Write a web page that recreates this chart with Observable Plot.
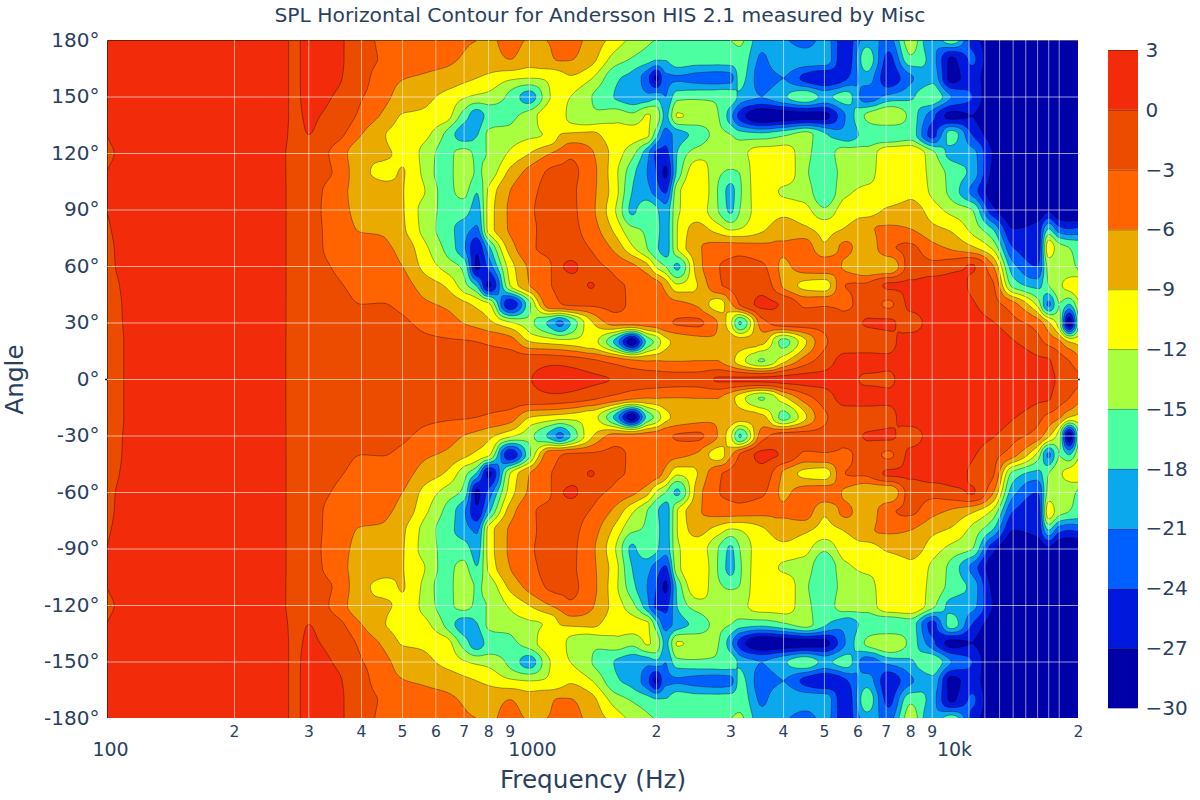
<!DOCTYPE html>
<html><head><meta charset="utf-8">
<script src="https://cdn.jsdelivr.net/npm/d3@7"></script>
<script src="https://cdn.jsdelivr.net/npm/@observablehq/plot@0.6"></script>
<style>
html,body{margin:0;padding:0;background:#fff}
#wrap{position:relative;width:1200px;height:800px;overflow:hidden;font-family:"DejaVu Sans",sans-serif;color:#2a3f5f}
#title{position:absolute;left:0;top:3px;width:1200px;text-align:center;font-size:20.3px;line-height:24px;z-index:3}
#main,#bar{position:absolute;top:0}
#main{left:0}#bar{left:1100px;z-index:2}
svg{max-width:none!important}
</style></head><body>
<div id="wrap"><div id="title">SPL Horizontal Contour for Andersson HIS 2.1 measured by Misc</div><div id="main"></div><div id="bar"></div></div>
<script>
const freqs=[100,150,200,250,260,280,300,350,400,450,500,560,
630,700,750,800,900,1000,1120,1180,1250,1400,1600,1750,1900,2000,2100,2240,2500,2800,3000,3150,3550,
4000,4500,5000,5600,6300,7100,8000,9000,10000,11200,12500,14000,16000,17000,18000,19000,20000];
const angles=[180,170,160,150,140,130,120,110,100,90,80,70,60,50,40,30,20,10,0];
const r180=[0,1,1.5,.8,.3,-.2,.6,.3,-1.5,-3.8,-4.6,-4.8,-5,-5.7,-6,-6.5,-5,-6.2,-5.9,-4.8,-5,-7,-10.4,-12.8,-14.3,-15.1,-15.3,-15.5,-15.5,-15.5,-15,-14.5,-20,-20.5,-23,-19.5,-26,-19.5,-22,-13,-21,-15.5,-25,-29,-29.5,-29.9,-29.9,-29.9,-29.9,-29.9];
const r170=[0,1,1.5,.8,.3,-.2,.6,.3,-1.5,-3.5,-5,-5.3,-5.5,-6.3,-6.9,-7,-6,-7.5,-6.3,-5.8,-5.9,-8,-13.5,-15.3,-16.7,-17.8,-17.8,-15.8,-16.5,-16.5,-16.3,-16,-21.5,-18.5,-19,-19,-26.5,-16,-25,-15.8,-19.5,-27.5,-23.5,-29.5,-29.9,-29.9,-29.9,-29.9,-29.9,-29.9];
const r160=[0,1,1.5,.8,.3,-.2,.6,.2,-1.7,-5,-5.9,-6.3,-7,-8.3,-9,-9.8,-11.5,-12,-11.5,-10.5,-9.5,-11.8,-17.5,-19,-23,-27.5,-21.5,-21.3,-22,-22.5,-22,-17,-22.5,-21,-25,-27,-24.5,-19.5,-26,-21.5,-18.8,-28,-25.5,-29.5,-29.9,-29.9,-29.9,-29.9,-29.9,-29.9];
const r150=[0,1,1.5,.8,.3,-.2,.5,-.2,-2.8,-5.2,-7,-8.2,-9.7,-11.7,-12.6,-13,-15.8,-19.5,-12,-11,-12,-14.9,-18.2,-19.5,-20,-18.8,-21,-16,-15.5,-15.5,-16,-18.8,-21,-18.5,-15.5,-18.8,-16.5,-22.5,-20,-18.5,-15.5,-21,-24,-29.5,-29.9,-29.9,-29.9,-29.9,-29.9,-29.9];
const r140=[0,1,1.5,.8,.3,-.2,.2,-.8,-3.8,-6.5,-9.2,-9.5,-10.5,-16.5,-19.5,-17,-15.8,-13.5,-10,-10.5,-13,-14.5,-13,-14.2,-11.8,-13,-18.8,-11.8,-13,-14.9,-20,-25,-29.9,-29,-28.5,-28,-21,-14.5,-12,-16,-23,-28,-27,-29.9,-29.9,-29.9,-29.9,-29.9,-29.9,-29.9];
const r130=[0,1,1.5,.8,.3,-.3,0,-2,-6,-8.8,-10,-11,-15.3,-19.5,-18.2,-14.5,-13.5,-12.5,-11.5,-9,-8.5,-8.2,-11,-10.8,-11.5,-17,-22.5,-19.5,-17,-14.2,-15,-16.5,-17,-15.5,-14,-17.5,-20,-17,-18,-16.5,-25,-16.5,-24,-28.5,-29.9,-29.9,-29.9,-29.9,-29.9,-29.9];
const r120=[-.1,1,1.5,.8,.2,-.5,-.8,-4.2,-8,-8.7,-9.5,-12.7,-16,-13.8,-15.5,-14.8,-11.5,-9,-6,-5,-3.5,-5.6,-10.5,-14,-20,-24.5,-25,-17.9,-13.5,-12.5,-13,-12.8,-10.5,-10.5,-14,-16.5,-13.5,-13.8,-9.5,-9.2,-14,-19,-20,-27,-29.5,-29.9,-29.9,-29.9,-29.9,-29.9];
const r110=[0,1,1.5,.8,.2,-.5,-1,-3.6,-8.2,-9.6,-8.9,-12.5,-16.5,-12.8,-15.3,-14,-8.2,-5,-2.6,-2.3,-2.4,-4.9,-11.3,-17,-21,-24,-27.5,-17.2,-9.9,-14.4,-15.5,-14.9,-9.3,-9.6,-14.5,-16.5,-14,-13,-10.5,-10,-13,-16,-19,-27.5,-29.9,-29.9,-29.9,-29.9,-29.9,-29.9];
const r100=[0,1,1.5,.8,.2,-.5,-1.3,-5,-7,-8,-8.9,-11.7,-15.8,-14.2,-17.8,-11.5,-6,-3.8,-2.2,-2.1,-2.5,-5.1,-11,-18,-20,-22.5,-24.5,-13,-9.5,-15.2,-19,-15.5,-10.3,-12.5,-13.5,-17.5,-12.7,-11.5,-11.5,-9.8,-12.6,-16,-22,-28.5,-29.9,-29.9,-29.9,-29.9,-29.9,-29.9];
const r90=[0,1,1.5,.8,.2,-.5,-1.5,-5,-6.7,-7.5,-8.8,-13,-15.7,-16.5,-19.5,-11,-5.5,-3.4,-2.1,-2,-2.4,-5.2,-12,-18.5,-16,-17.5,-20,-12.5,-10.5,-15,-18.5,-15,-10.5,-9.8,-11,-14.5,-10.5,-10.5,-8.4,-7.5,-10.5,-13,-15,-26,-29.5,-29.5,-27.5,-29.5,-29.7,-29.7];
const r80=[-.05,1,1.5,.8,.2,-.5,-1.5,-4.6,-6.2,-6.4,-8.5,-12.8,-16.5,-19.5,-21.5,-11,-5.6,-3.6,-2.2,-2.1,-2.3,-4.5,-10,-14.5,-15.5,-17,-19.5,-12,-8,-10.5,-12.5,-12,-9.5,-7.8,-8.5,-10,-8.8,-6.5,-5.5,-6,-8.2,-9.5,-13,-18,-27,-26,-18,-23,-24,-23.5];
const r70=[-.1,1,1.5,.8,.2,-.5,-1.5,-4.2,-4.9,-5.5,-6.9,-11,-15.5,-20.5,-26.5,-19,-7.5,-3.6,-2.2,-2,-1.8,-3.2,-7,-11.5,-15,-17.5,-19.5,-12,-6.5,-4.8,-4.5,-4.5,-5,-5.5,-4.5,-8.5,-5.3,-8,-3.5,-2.5,-5,-6.5,-8.5,-12.5,-24,-26,-10,-14,-15,-16];
const r60=[-.12,1,1.5,.8,.2,-.5,-1.4,-3.4,-4.5,-5,-6,-9.7,-13,-16,-27.5,-23,-10.5,-5.5,-3.2,-.5,.5,-1.8,-3.9,-5.3,-8,-12.5,-15,-18.5,-7.5,-3.1,-2.5,-2,-2.5,-6.5,-4.5,-4,-6.5,-8.8,-9,-1.8,-2,-1,.2,-5.5,-20,-24,-14,-13.5,-14,-15.5];
const r50=[-.2,1,1.5,.8,.2,-.5,-1.3,-2.7,-3.7,-4,-4.8,-7.2,-9.2,-14,-18.5,-27.5,-12,-6,-3.1,-2.5,-1.6,.1,-2.6,-3.3,-4.1,-4.8,-7,-11.5,-9,-3.3,-2.5,-1.8,-1,-6.5,-9.8,-10.5,-3,-2.5,.5,.5,1.2,1.2,-.5,-2.5,-16,-19,-15,-12.5,-11,-9.5];
const r40=[-.25,1,1.5,.8,.2,-.5,-1.2,-2.2,-3,-2.95,-3.6,-5.4,-6.5,-8.3,-9.8,-11.5,-26.5,-15.5,-3.8,-3.1,-2.6,-2.4,-2.4,-3.5,-4.3,-4.5,-4.8,-5.2,-6.5,-10.5,-6.5,-2.8,.5,-.3,-3.5,-3.2,-3.6,-1.5,-3.5,.8,1.5,1.5,.3,-1.8,-5,-13,-21.5,-15,-18,-12.5];
const r30=[-.27,1,1.5,.8,.2,-.5,-1.2,-2,-2.1,-2.2,-2.6,-3.6,-4.5,-6.1,-7,-8.2,-11.5,-14.1,-19,-21.8,-18,-9.5,-5,-5,-4.8,-4.5,-3.5,-2.8,-2.5,-6.2,-11.5,-18.3,-4.5,-1.5,-1.8,-2.2,-1.5,.2,.5,-1.5,1.2,1.3,1.1,.2,-2,-4.5,-8.5,-14,-29,-15];
const r20=[-.3,1,1.5,.8,.2,-.5,-1.1,-1.6,-1.7,-1.8,-2,-2.5,-2.7,-2.8,-3,-3.4,-4.5,-8.9,-10,-10.5,-10.8,-11,-19,-29,-17,-14,-10,-8.2,-7,-6.3,-7,-7.5,-8,-16,-9.5,-3.5,-1.5,-1.5,-.8,1.5,1.6,1.6,1.6,1.5,.2,-2,-4,-5.5,-9,-10];
const r10=[-.3,1,1.5,.8,.2,-.5,-1,-1.5,-1.5,-1.5,-1.6,-1.8,-1.8,-1.8,-1.8,-1.8,-1.6,-1.2,-1,-1.2,-1.5,-2.5,-4.2,-5.6,-6.1,-6,-6.1,-6.1,-6,-6,-8,-10.5,-15.2,-10,-4.5,-1.5,.8,.9,.4,1.6,1.6,1.7,1.8,1.8,1.5,.5,.2,-1.8,-3,-5];
const r0=[-.3,1,1.5,.8,.2,-.5,-1,-1.4,-1.4,-1.3,-1.3,-1.3,-1.3,-1.2,-1.1,-1,-.6,-.1,1.5,2,1.5,.5,-.2,-1.3,-1.6,-1.8,-1.8,-1.8,-1.6,.3,.4,.5,.8,1,1,.8,.7,-.3,-.3,1.5,2,1.7,1.5,1.5,1.5,1.4,.7,-.5,-1.5,-2.5];
const rows=[r180,r170,r160,r150,r140,r130,r120,r110,r100,r90,r80,r70,r60,r50,r40,r30,r20,r10,r0];

const levels=[-30,-27,-24,-21,-18,-15,-12,-9,-6,-3,0,3];
const bandColors=["#0000a8","#0018dc","#0060ff","#0ca8ee","#4cffa0","#a8ff40","#ffff00","#eaaa00","#ff6400","#eb4c00","#f22c0a"];
const angleTicks=[-180,-150,-120,-90,-60,-30,0,30,60,90,120,150,180];
const gridAngles=[-150,-120,-90,-60,-30,0,30,60,90,120,150];
const gridFreqs=[200,300,400,500,600,700,800,1000,2000,3000,4000,5000,6000,7000,8000,9000,11000,12000,13000,14000,15000,16000,17000,18000];
const majorTicks=[100,1000,10000];
const minorTicks=[200,300,400,500,600,700,800,900,2000,3000,4000,5000,6000,7000,8000,9000,20000];
const majorText={100:"100",1000:"1000",10000:"10k"};

const table=[];
rows.forEach((row,i)=>row.forEach((v,j)=>{
  table.push({f:freqs[j],a:angles[i],v});
  if(angles[i]!==0) table.push({f:freqs[j],a:-angles[i],v});
}));

// Monotone cubic through the samples of one line, evaluated at positions q.
function slopes(t,p){
  const n=t.length,m=new Float64Array(n),d=[];
  for(let k=0;k<n-1;k++) d.push((p[k+1]-p[k])/(t[k+1]-t[k]));
  m[0]=d[0];m[n-1]=d[n-2];
  for(let k=1;k<n-1;k++){
    if(d[k-1]*d[k]<=0) m[k]=0;
    else{const a=t[k]-t[k-1],b=t[k+1]-t[k];m[k]=3*(a+b)/((2*b+a)/d[k-1]+(b+2*a)/d[k]);}
  }
  return m;
}
function spline(t,p,q,out,stride,off){
  const m=slopes(t,p);let k=0;
  for(let i=0;i<q.length;i++){
    const x=q[i];
    while(k<t.length-2&&x>t[k+1])k++;
    const h=t[k+1]-t[k],s=Math.max(0,Math.min(1,(x-t[k])/h)),s2=s*s,s3=s2*s;
    out[off+i*stride]=(2*s3-3*s2+1)*p[k]+(s3-2*s2+s)*h*m[k]+(-2*s3+3*s2)*p[k+1]+(s3-s2)*h*m[k+1];
  }
}
function gridInterpolate(index,w,h,X,Y,V){
  const xs=[...new Set(Array.from(index,i=>X[i]))].sort((a,b)=>a-b);
  const ys=[...new Set(Array.from(index,i=>Y[i]))].sort((a,b)=>a-b);
  const ix=new Map(xs.map((x,i)=>[x,i])),iy=new Map(ys.map((y,i)=>[y,i]));
  const nx=xs.length,ny=ys.length,G=new Float64Array(nx*ny);
  for(const i of index) G[iy.get(Y[i])*nx+ix.get(X[i])]=V[i];
  const qx=Array.from({length:w},(_,i)=>i+.5),qy=Array.from({length:h},(_,j)=>j+.5);
  const R=new Float64Array(ny*w);
  for(let j=0;j<ny;j++) spline(xs,G.subarray(j*nx,(j+1)*nx),qx,R,1,j*w);
  const out=new Float64Array(w*h),col=new Float64Array(ny);
  for(let i=0;i<w;i++){
    for(let j=0;j<ny;j++) col[j]=R[j*w+i];
    spline(ys,col,qy,out,w,i);
  }
  return out;
}

const ink="#2a3f5f";
const main=Plot.plot({
  width:1200,height:800,marginLeft:107,marginRight:122,marginTop:40,marginBottom:82,
  style:{fontFamily:"'DejaVu Sans',sans-serif",color:ink,background:"#fff"},
  x:{type:"log",domain:[100,20000],axis:null},
  y:{domain:[-180,180],axis:null},
  color:{type:"threshold",domain:levels.slice(1,-1),range:bandColors},
  marks:[
    Plot.ruleY([0],{x1:()=>99,x2:()=>20200,stroke:"#000",strokeWidth:1.5}),
    Plot.contour(table,{x:"f",y:"a",value:"v",fill:"value",stroke:"#000",strokeOpacity:.45,strokeWidth:.8,
      thresholds:levels.slice(0,-1),interpolate:gridInterpolate,pixelSize:1,clip:"frame"}),
    Plot.ruleX(gridFreqs,{stroke:"#fff",strokeOpacity:.55,strokeWidth:1}),
    Plot.ruleY(gridAngles,{stroke:"#fff",strokeOpacity:.6,strokeWidth:1}),
    Plot.axisY(angleTicks,{anchor:"left",tickSize:0,tickPadding:8,fontSize:20,label:null,tickFormat:d=>d+"°"}),
    Plot.text(minorTicks,{x:d=>d,text:d=>String(d)[0],frameAnchor:"bottom",dy:14,lineAnchor:"middle",fontSize:15.5,fill:ink}),
    Plot.text(majorTicks,{x:d=>d,text:d=>majorText[d],frameAnchor:"bottom",dy:31,dx:3,lineAnchor:"middle",fontSize:19,fill:ink}),
    Plot.text(["Frequency (Hz)"],{frameAnchor:"bottom",dy:62,lineAnchor:"middle",fontSize:24.7,fill:ink}),
    Plot.text(["Angle"],{frameAnchor:"left",dx:-92,rotate:-90,textAnchor:"middle",fontSize:24.7,fill:ink})
  ]
});
document.getElementById("main").append(main);

const bands=bandColors.map((color,i)=>({lo:levels[i],hi:levels[i+1],color}));
const bar=Plot.plot({
  width:100,height:800,marginLeft:8,marginRight:62,marginTop:50,marginBottom:92,
  style:{fontFamily:"'DejaVu Sans',sans-serif",color:ink,background:"transparent"},
  x:{axis:null},y:{domain:[-30,3],axis:null},
  marks:[
    Plot.rect(bands,{y1:"lo",y2:"hi",fill:d=>d.color}),
    Plot.ruleY(levels,{stroke:"#000",strokeOpacity:.3,strokeWidth:1}),
    Plot.axisY(levels,{anchor:"right",tickSize:0,tickPadding:7,fontSize:20,label:null,tickFormat:d=>d<0?"\u2212"+(-d):String(d)})
  ]
});
document.getElementById("bar").append(bar);
</script>
</body></html>
